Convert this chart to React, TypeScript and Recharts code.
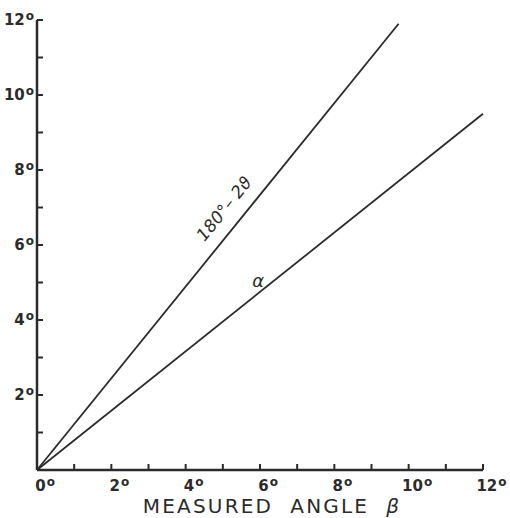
import React from 'react';
import { LineChart, Line, XAxis, YAxis, ReferenceDot } from 'recharts';

const upperBeta = [0, 9.73];
const upperValues = [0, 11.9]; // 180° - 2ϑ
const lowerBeta = [0, 12];
const lowerValues = [0, 9.5]; // alpha

const xTicks = [0, 1, 2, 3, 4, 5, 6, 7, 8, 9, 10, 11, 12];
const yTicks = [0, 1, 2, 3, 4, 5, 6, 7, 8, 9, 10, 11, 12];

const upperData = upperBeta.map((b, i) => ({ beta: b, value: upperValues[i] }));
const lowerData = lowerBeta.map((b, i) => ({ beta: b, value: lowerValues[i] }));

const ink = '#2b2b2b';
const font = '"DejaVu Sans", sans-serif';

const Deg = () => (
  <tspan fontSize={12} dy={-5} dx={1} fontWeight="bold">o</tspan>
);

const XTick = (props: any) => {
  const { x, y, payload } = props;
  const v = payload.value;
  const digits = String(v).length;
  return (
    <g>
      <line x1={x} y1={y} x2={x} y2={y - 6} stroke={ink} strokeWidth={2} />
      {v % 2 === 0 && (
        <text x={x + 3 - 4.8 * digits} y={y + 21} fill={ink} fontSize={15} fontWeight="bold" fontFamily={font} textAnchor="start">
          {v}
          <Deg />
        </text>
      )}
    </g>
  );
};

const YTick = (props: any) => {
  const { x, y, payload } = props;
  const v = payload.value;
  return (
    <g>
      <line x1={x} y1={y} x2={x + 6} y2={y} stroke={ink} strokeWidth={2} />
      {v % 2 === 0 && v !== 0 && (
        <text x={x - 3} y={y + 5} fill={ink} fontSize={15} fontWeight="bold" fontFamily={font} textAnchor="end">
          {v}
          <Deg />
        </text>
      )}
    </g>
  );
};

const UpperLabel = (props: any) => {
  const { cx, cy } = props;
  return (
    <text
      x={cx}
      y={cy}
      transform={`rotate(-51 ${cx} ${cy})`}
      textAnchor="middle"
      dominantBaseline="middle"
      fill={ink}
      fontSize={17}
      fontStyle="italic"
      fontFamily={font}
    >
      180°– 2ϑ
    </text>
  );
};

const AlphaLabel = (props: any) => {
  const { cx, cy } = props;
  return (
    <text x={cx} y={cy} textAnchor="middle" dominantBaseline="middle" fill={ink} fontSize={18} fontStyle="italic" fontFamily={font}>
      α
    </text>
  );
};

export default function App() {
  return (
    <div style={{ position: 'absolute', left: 0, top: 0, width: 510, height: 518, background: '#fff' }}>
      <LineChart width={510} height={518} margin={{ top: 20, right: 27, left: 0, bottom: 0 }}>
        <XAxis
          type="number"
          dataKey="beta"
          domain={[0, 12]}
          ticks={xTicks}
          interval={0}
          height={48}
          tickSize={0}
          tickMargin={0}
          axisLine={{ stroke: ink, strokeWidth: 2.5 }}
          tickLine={false}
          tick={<XTick />}
        />
        <YAxis
          type="number"
          dataKey="value"
          domain={[0, 12]}
          ticks={yTicks}
          interval={0}
          width={37}
          tickSize={0}
          tickMargin={0}
          axisLine={{ stroke: ink, strokeWidth: 2.5 }}
          tickLine={false}
          tick={<YTick />}
        />
        <Line data={upperData} dataKey="value" stroke={ink} strokeWidth={1.8} dot={false} isAnimationActive={false} />
        <Line data={lowerData} dataKey="value" stroke={ink} strokeWidth={1.8} dot={false} isAnimationActive={false} />
        <ReferenceDot x={5.05} y={6.95} r={0} shape={<UpperLabel />} />
        <ReferenceDot x={5.95} y={5.01} r={0} shape={<AlphaLabel />} />
      </LineChart>
      <div
        style={{
          position: 'absolute',
          left: 0,
          top: 494,
          width: 544,
          textAlign: 'center',
          fontFamily: font,
          fontSize: 20,
          letterSpacing: 2.2,
          color: ink,
          whiteSpace: 'pre',
        }}
      >
        MEASURED  ANGLE  <span style={{ fontStyle: 'italic' }}>β</span>
      </div>
    </div>
  );
}
